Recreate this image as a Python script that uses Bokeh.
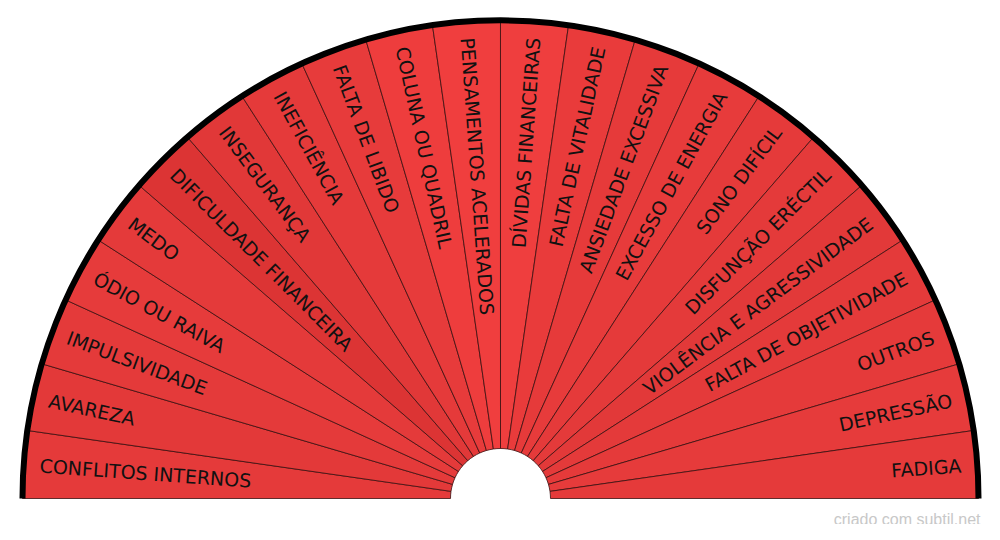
import math
from bokeh.plotting import figure
from bokeh.models import ColumnDataSource
from bokeh.embed import file_html
from bokeh.resources import INLINE
from bokeh.core.properties import value

labels = ["CONFLITOS INTERNOS", "AVAREZA", "IMPULSIVIDADE", "ÓDIO OU RAIVA", "MEDO",
          "DIFICULDADE FINANCEIRA", "INSEGURANÇA", "INEFICIÊNCIA", "FALTA DE LIBIDO",
          "COLUNA OU QUADRIL", "PENSAMENTOS ACELERADOS", "DÍVIDAS FINANCEIRAS",
          "FALTA DE VITALIDADE", "ANSIEDADE EXCESSIVA", "EXCESSO DE ENERGIA",
          "SONO DIFÍCIL", "DISFUNÇÃO ERÉCTIL", "VIOLÊNCIA E AGRESSIVIDADE",
          "FALTA DE OBJETIVIDADE", "OUTROS", "DEPRESSÃO", "FADIGA"]
colors = ["#e53a3a", "#e33939", "#e43a3a", "#e63b3b", "#e43a3a", "#dc3434",
          "#e13838", "#e53a3a", "#e73b3b", "#ee3d3d", "#f03e3e", "#ef3e3e",
          "#e93b3b", "#e63a3a", "#e73b3b", "#e53a3a", "#e43a3a", "#e23939",
          "#e43a3a", "#e53a3a", "#e63b3b", "#e53a3a"]

R_IN, R_OUT, R_TXT = 50, 478, 462
n = len(labels)
step = math.pi / n
starts, ends, tx, ty, ta, al = [], [], [], [], [], []
for i in range(n):
    a1 = math.pi - i * step
    a0 = a1 - step
    c = (a0 + a1) / 2
    starts.append(a0)
    ends.append(a1)
    tx.append(R_TXT * math.cos(c))
    ty.append(R_TXT * math.sin(c))
    if c > math.pi / 2:
        ta.append(c - math.pi)
        al.append("left")
    else:
        ta.append(c)
        al.append("right")

src = ColumnDataSource(dict(s=starts, e=ends, c=colors, x=tx, y=ty, a=ta, al=al, t=labels))

p = figure(width=984, height=524, x_range=(-500, 484), y_range=(-26, 498),
           output_backend="svg", toolbar_location=None)
p.axis.visible = False
p.grid.visible = False
p.outline_line_color = None
p.min_border = 0

p.annular_wedge(0, 0, inner_radius=R_IN, outer_radius=R_OUT, start_angle="s", end_angle="e",
                fill_color="c", line_color="#3a1010", line_width=0.8, source=src)
p.arc(0, 0, radius=R_OUT, start_angle=0, end_angle=math.pi, line_color="black", line_width=6)
p.text("x", "y", text="t", angle="a", text_align="al", text_baseline="middle",
       text_font=value("DejaVu Sans"), text_font_size="19px", text_color="#111111", source=src)
p.text([480], [-21], text=["criado com subtil.net"], text_align="right", text_baseline="middle",
       text_font=value("Liberation Sans"), text_font_size="16px", text_color="#c8c8c8")

open("out.html", "w").write(file_html(p, INLINE))
